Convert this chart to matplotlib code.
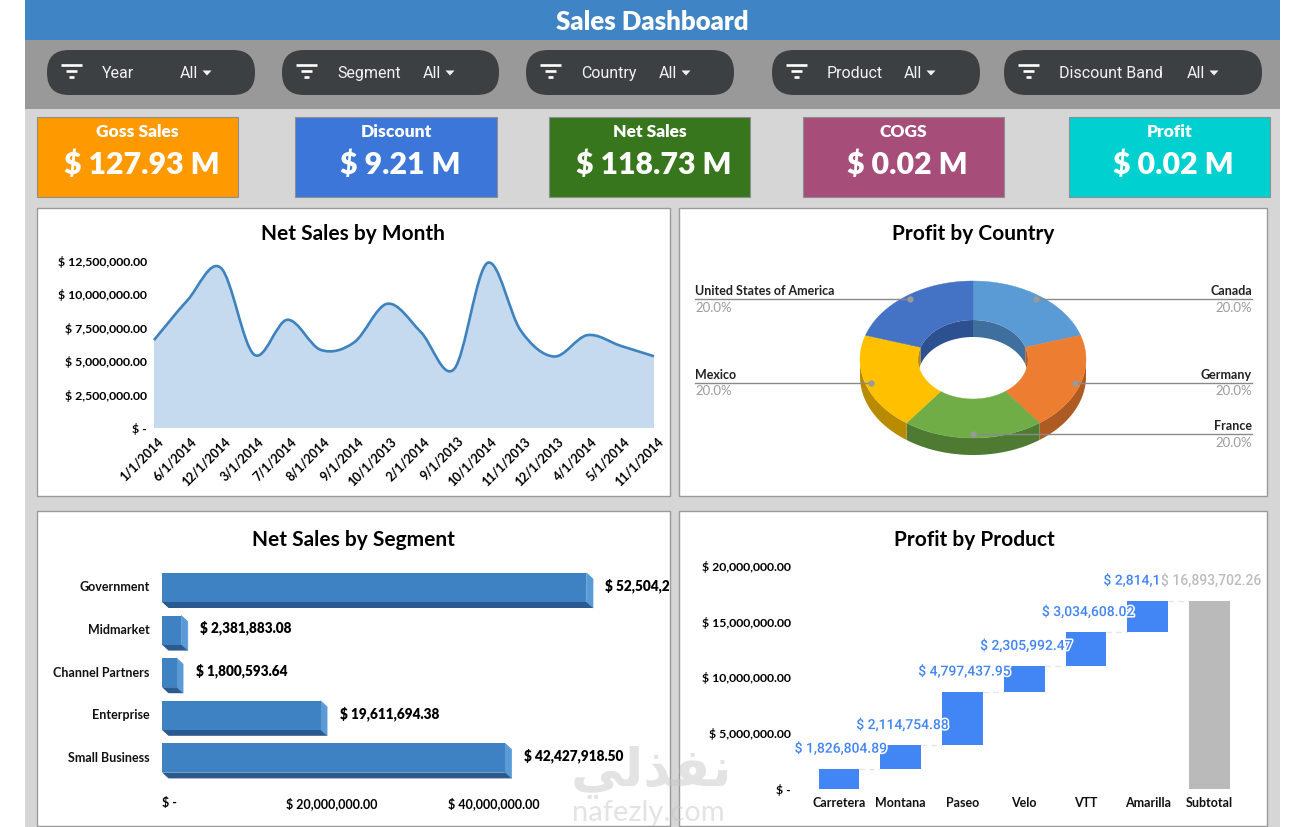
"""
plot.py
Sales dashboard: header, slicer pills, KPI cards and four chart panels.
"""

import numpy as np
import matplotlib
matplotlib.use("Agg")
import matplotlib.pyplot as plt
import matplotlib.patheffects as pe
from matplotlib.patches import FancyBboxPatch, PathPatch, Polygon, Rectangle
from matplotlib.path import Path
from matplotlib.transforms import ScaledTranslation

W, H = 1301, 827
FONT = "Lato"
UI_FONT = "Roboto"

# --- data ---
FILTER_NAMES = ["Year", "Segment", "Country", "Product", "Discount Band"]

KPI_NAMES = ["Goss Sales", "Discount", "Net Sales", "COGS", "Profit"]
KPI_VALUES = ["$ 127.93 M", "$ 9.21 M", "$ 118.73 M", "$ 0.02 M", "$ 0.02 M"]
KPI_COLORS = ["#FF9900", "#3C76D9", "#38761D", "#A64D79", "#00D0D0"]

MONTHS = ["1/1/2014", "6/1/2014", "12/1/2014", "3/1/2014", "7/1/2014", "8/1/2014",
          "9/1/2014", "10/1/2013", "2/1/2014", "9/1/2013", "10/1/2014", "11/1/2013",
          "12/1/2013", "4/1/2014", "5/1/2014", "11/1/2014"]
MONTH_SALES = [6.58e6, 9.55e6, 12.0e6, 5.5e6, 8.1e6, 5.85e6, 6.4e6, 9.3e6,
               7.2e6, 4.4e6, 12.35e6, 7.3e6, 5.35e6, 6.95e6, 6.15e6, 5.37e6]

COUNTRIES = ["Canada", "Germany", "France", "Mexico", "United States of America"]
COUNTRY_SHARE = [20.0, 20.0, 20.0, 20.0, 20.0]
TOP_COLORS = ["#5B9BD5", "#ED7D31", "#70AD47", "#FFC000", "#4472C4"]
SIDE_COLORS = ["#3F6F9E", "#AD5A23", "#4E7A32", "#B98B00", "#2C5090"]

SEGMENTS = ["Government", "Midmarket", "Channel Partners", "Enterprise", "Small Business"]
SEGMENT_SALES = [52504260.67, 2381883.08, 1800593.64, 19611694.38, 42427918.50]

PRODUCTS = ["Carretera", "Montana", "Paseo", "Velo", "VTT", "Amarilla"]
PRODUCT_PROFIT = [1826804.89, 2114754.88, 4797437.95, 2305992.47, 3034608.02, 2814104.05]
PROFIT_TOTAL = 16893702.26


def money(v):
    return "$ -" if v == 0 else f"$ {v:,.2f}"


def px_axes(x0, y0, x1, y1, zorder=2):
    """Axes placed by picture pixels, y counted from the top."""
    ax = fig.add_axes([x0 / W, 1 - y1 / H, (x1 - x0) / W, (y1 - y0) / H], zorder=zorder)
    ax.patch.set_alpha(0)
    for s in ax.spines.values():
        s.set_visible(False)
    ax.tick_params(length=0)
    return ax


def shift_px(label, dx, dy=0):
    label.set_transform(label.get_transform()
                        + ScaledTranslation(dx / 100, dy / 100, fig.dpi_scale_trans))


fig = plt.figure(figsize=(W / 100, H / 100), dpi=100, facecolor="white")
page = fig.add_axes([0, 0, 1, 1], zorder=0)
page.set_xlim(0, W)
page.set_ylim(H, 0)
page.axis("off")

# --- page frame ---
page.add_patch(Rectangle((25, 109), 1255, H - 109, fc="#D6D6D6", ec="none"))
page.add_patch(Rectangle((25, 40), 1255, 69, fc="#999999", ec="none"))
page.add_patch(Rectangle((25, 0), 1255, 40, fc="#3F84C5", ec="none"))
page.text(652, 22, "Sales Dashboard", color="white", fontsize=18.5, fontweight=800,
          family=FONT, ha="center", va="center")

# --- slicer pills ---
pill_x = [(47, 255), (282, 499), (526, 734), (772, 980), (1004, 1262)]
label_x = [102, 337, 581, 827, 1059]
all_x = [180, 423, 659, 904, 1187]
for (x0, x1), name, lx, ax_ in zip(pill_x, FILTER_NAMES, label_x, all_x):
    page.add_patch(FancyBboxPatch((x0, 50), x1 - x0, 45, fc="#3D4043", ec="none",
                                  boxstyle="round,pad=0,rounding_size=22"))
    for y, inset in zip((65, 71, 77), (0, 5, 8)):
        page.plot([x0 + 14 + inset, x0 + 35 - inset], [y, y], color="white",
                  lw=1.9, solid_capstyle="butt")
    page.text(lx, 73.5, name, color="#F2F2F2", fontsize=11.5, family=UI_FONT, va="center")
    page.text(ax_, 73.5, "All", color="#F2F2F2", fontsize=11.5, family=UI_FONT, va="center")
    page.add_patch(Polygon([(ax_ + 22.5, 70.5), (ax_ + 31.5, 70.5), (ax_ + 27, 75.5)],
                           fc="#F2F2F2", ec="none"))

# --- KPI cards ---
card_x = [(37, 238), (295, 497), (549, 750), (803, 1004), (1069, 1270)]
for (x0, x1), name, val, col in zip(card_x, KPI_NAMES, KPI_VALUES, KPI_COLORS):
    page.add_patch(Rectangle((x0, 117), x1 - x0, 80, fc=col, ec="#8E8E8E", lw=0.8))
    page.text((x0 + x1) / 2, 132, name, color="#FFFFFF", fontsize=12.5, fontweight=800,
              family=FONT, ha="center", va="center")
    page.text((x0 + x1) / 2 + 4, 165, val, color="#FFFFFF", fontsize=21.8, fontweight=800,
              family=FONT, ha="center", va="center")

# --- chart panels ---
panels = [(37, 208, 670, 496, "Net Sales by Month", 353, 234.5),
          (679, 208, 1267, 496, "Profit by Country", 973, 234.5),
          (37, 511, 670, 826, "Net Sales by Segment", 353, 539.5),
          (679, 511, 1267, 826, "Profit by Product", 974, 539.5)]
for x0, y0, x1, y1, title, tx, ty in panels:
    page.add_patch(Rectangle((x0, y0), x1 - x0, y1 - y0, fc="white", ec="#9A9A9A", lw=1))
    page.text(tx, ty, title, color="black", fontsize=15, fontweight="bold", family=FONT,
              ha="center", va="center")

# --- net sales by month: smoothed area ---
ax = px_axes(154, 261, 654, 428)
y = np.array(MONTH_SALES)
x = np.arange(len(y))
ax.set_xlim(0, len(y) - 1)
ax.set_ylim(0, 12.5e6)
# bezier segments through the points, the way a smoothed office line is built
verts = [(x[0], y[0])]
codes = [Path.MOVETO]
for i in range(len(y) - 1):
    prev_i, next_i = max(i - 1, 0), min(i + 2, len(y) - 1)
    c1 = (x[i] + (x[i + 1] - x[prev_i]) / 6, y[i] + (y[i + 1] - y[prev_i]) / 6)
    c2 = (x[i + 1] - (x[next_i] - x[i]) / 6, y[i + 1] - (y[next_i] - y[i]) / 6)
    verts += [c1, c2, (x[i + 1], y[i + 1])]
    codes += [Path.CURVE4] * 3
area = Path(verts + [(x[-1], 0), (x[0], 0), (x[0], y[0])],
            codes + [Path.LINETO, Path.LINETO, Path.LINETO])
ax.add_patch(PathPatch(area, fc="#C5DAEF", ec="none"))
ax.add_patch(PathPatch(Path(verts, codes), fc="none", ec="#3E82BE", lw=1.9, clip_on=False))
ax.set_yticks([0, 2.5e6, 5e6, 7.5e6, 10e6, 12.5e6])
ax.set_yticklabels([money(v) for v in ax.get_yticks()], family=FONT, fontsize=8.8,
                   fontweight="bold", color="black")
ax.tick_params(axis="y", pad=5)
ax.set_xticks(x)
ax.set_xticklabels(MONTHS, rotation=45, ha="right", rotation_mode="anchor", family=FONT,
                   fontsize=9, fontweight="bold", color="black")
ax.tick_params(axis="x", pad=5)
for lab in ax.get_xticklabels():
    shift_px(lab, 3)

# --- profit by country: tilted donut, 1 unit = 1 pixel ---
OUT_A, OUT_B, IN_A, IN_B, DEPTH = 113, 78.5, 55, 39.5, 17
ax = px_axes(679, 208, 1267, 496)
ax.set_xlim(679 - 973, 1267 - 973)
ax.set_ylim(359.5 - 496, 359.5 - 208)
ax.axis("off")
edges = 90 - np.concatenate([[0], np.cumsum(COUNTRY_SHARE)]) * 360 / sum(COUNTRY_SHARE)


def arc(a, b, t0, t1, drop=0):
    t = np.radians(np.linspace(t0, t1, 50))
    return np.column_stack([a * np.cos(t), b * np.sin(t) - drop])


def wall(a, b, t0, t1):
    return np.vstack([arc(a, b, t0, t1), arc(a, b, t1, t0, DEPTH)])


hole = Polygon(arc(IN_A, IN_B, 0, 360), transform=ax.transData)
for i, (t0, t1) in enumerate(zip(edges[:-1], edges[1:])):
    # outer wall shows on the front half, inner wall on the back half
    hi, lo = min(t0, 0), max(t1, -180)
    if hi > lo:
        ax.add_patch(Polygon(wall(OUT_A, OUT_B, hi, lo), fc=SIDE_COLORS[i], ec="none"))
    for shift in (0, 360):
        hi, lo = min(t0 + shift, 180), max(t1 + shift, 0)
        if hi > lo:
            p = Polygon(wall(IN_A, IN_B, hi, lo), fc=SIDE_COLORS[i], ec="none", zorder=3)
            ax.add_patch(p)
            p.set_clip_path(hole)
for i, (t0, t1) in enumerate(zip(edges[:-1], edges[1:])):
    ring = np.vstack([arc(OUT_A, OUT_B, t0, t1), arc(IN_A, IN_B, t1, t0)])
    ax.add_patch(Polygon(ring, fc=TOP_COLORS[i], ec=TOP_COLORS[i], lw=0.3, zorder=2))

# leader lines and labels
for i, name in enumerate(COUNTRIES):
    mid = np.radians((edges[i] + edges[i + 1]) / 2)
    dx, dy = 0.95 * OUT_A * np.cos(mid), 0.95 * OUT_B * np.sin(mid)
    right = dx >= -1
    end = 279 if right else -278
    ax.plot([dx, end], [dy, dy], color="#8A8A8A", lw=1, zorder=4)
    ax.plot([dx], [dy], "o", color="#9A9A9A", ms=3.5, zorder=4)
    ha = "right" if right else "left"
    ax.text(end, dy + 8, name, ha=ha, va="center", family=FONT, fontsize=9,
            fontweight="bold", color="#222222")
    ax.text(end, dy - 8.5, f"{COUNTRY_SHARE[i]:.1f}%", ha=ha, va="center", family=FONT,
            fontsize=9.5, color="#9C9C9C")

# --- net sales by segment: bars with a drawn depth ---
ax = px_axes(162, 565, 669, 785)
ax.set_xlim(0, 507 / 8.085 * 1e6)
ax.set_ylim(4.636, -0.528)
BAR_H, DX, DY = 29 / 42.6, 6.5 / 8.085 * 1e6, 6 / 42.6
for i, v in enumerate(SEGMENT_SALES):
    top, bot = i - BAR_H / 2, i + BAR_H / 2
    ax.barh(i, v, height=BAR_H, color="#3E82C4", zorder=3)
    ax.add_patch(Polygon([(v, top), (v + DX, top + DY), (v + DX, bot + DY), (v, bot)],
                         fc="#5A9AD6", ec="#5A9AD6", lw=0.5, zorder=2))
    ax.add_patch(Polygon([(0, bot), (v, bot), (v + DX, bot + DY), (DX, bot + DY)],
                         fc="#2A5A8E", ec="none", zorder=2))
    ax.annotate(money(v), (v, i), xytext=(19 * 0.72, 1.5), textcoords="offset points",
                family=FONT, fontsize=9.8, fontweight=800, color="black",
                va="center", annotation_clip=False, clip_on=True)
ax.set_yticks(range(len(SEGMENTS)))
ax.set_yticklabels(SEGMENTS, family=FONT, fontsize=9, fontweight="bold", color="#111111")
ax.tick_params(axis="y", pad=9)
for lab in ax.get_yticklabels():
    shift_px(lab, 0, 1)
ax.set_xticks([0, 20e6, 40e6])
ax.set_xticklabels([money(v) for v in (0, 20e6, 40e6)], family=FONT, fontsize=9,
                   fontweight="bold", color="black")
ax.tick_params(axis="x", pad=9)
for lab in ax.get_xticklabels():
    shift_px(lab, 8)

# --- profit by product: waterfall ---
ax = px_axes(795, 566, 1250, 789)
ax.set_xlim(-0.7126, 6.656)
ax.set_ylim(0, 20e6)
BLUE, GRAY = "#4285F4", "#BABABA"
starts = np.concatenate([[0], np.cumsum(PRODUCT_PROFIT)[:-1]])
tops = starts + np.array(PRODUCT_PROFIT)
ax.bar(range(len(PRODUCTS)), PRODUCT_PROFIT, bottom=starts, width=0.656, color=BLUE, zorder=2)
ax.bar(len(PRODUCTS), PROFIT_TOTAL, width=0.656, color=GRAY, zorder=2)
for i, t in enumerate(tops):
    ax.plot([i + 0.328, i + 1 - 0.328], [t, t], color="#E6E6E6", lw=1, ls=(0, (4, 3)), zorder=1)
halo = [pe.withStroke(linewidth=2.2, foreground="white")]
for i, t in enumerate(tops):
    ax.annotate(money(PRODUCT_PROFIT[i]), (i, t), xytext=(2 * 0.72, 20 * 0.72),
                textcoords="offset points", ha="center", va="center", family=UI_FONT,
                fontsize=10, fontweight="medium", color=BLUE, zorder=5, path_effects=halo)
ax.annotate(money(PROFIT_TOTAL), (len(PRODUCTS), PROFIT_TOTAL), xytext=(2 * 0.72, 20 * 0.72),
            textcoords="offset points", ha="center", va="center", family=UI_FONT,
            fontsize=10, fontweight="medium", color="#BDBDBD", zorder=6,
            bbox=dict(boxstyle="square,pad=0.05", fc="white", ec="none"))
ax.set_yticks([0, 5e6, 10e6, 15e6, 20e6])
ax.set_yticklabels([money(v) for v in ax.get_yticks()], family=FONT, fontsize=8.8,
                   fontweight="bold", color="black")
ax.tick_params(axis="y", pad=3)
ax.set_xticks(range(len(PRODUCTS) + 1))
ax.set_xticklabels(PRODUCTS + ["Subtotal"], family=FONT, fontsize=9, fontweight="bold",
                   color="#111111")
ax.tick_params(axis="x", pad=6)

# --- watermark lying over the page ---
top = fig.add_axes([0, 0, 1, 1], zorder=5)
top.set_xlim(0, W)
top.set_ylim(H, 0)
top.axis("off")
top.text(651, 772, "\uFEF2\uFEDF\uFEAC\uFED4\uFEE7", family="DejaVu Sans", fontsize=38,
         fontweight="bold", color="#C8C8C8", alpha=0.5, ha="center", va="center")
top.text(648, 813, "nafezly.com", family=FONT, fontsize=21, color="#C8C8C8", alpha=0.5,
         ha="center", va="center")

fig.savefig("out.png", dpi=100, facecolor="white")
